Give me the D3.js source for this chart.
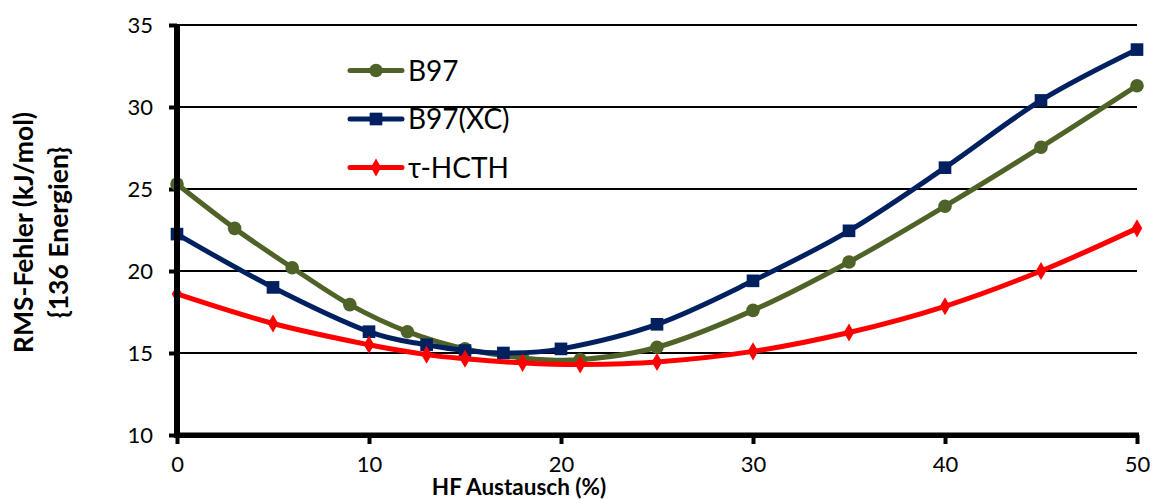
<!DOCTYPE html>
<html>
<head>
<meta charset="utf-8">
<script src="https://cdn.jsdelivr.net/npm/d3@7"></script>
<style>
  html, body { margin: 0; padding: 0; background: #fff; }
  svg { display: block; }
  text { font-family: Lato, "Open Sans", sans-serif; fill: #000; }
</style>
</head>
<body>
<svg id="chart" width="1152" height="499"></svg>
<script>
// HF admixture (%) and RMS error (kJ/mol) per functional
const b97X = [0, 3, 6, 9, 12, 15, 18, 21, 25, 30, 35, 40, 45, 50];
const b97Y = [25.3, 22.6, 20.2, 17.95, 16.3, 15.25, 14.7, 14.6, 15.35, 17.6, 20.55, 23.95, 27.55, 31.3];

const b97xcX = [0, 5, 10, 13, 15, 17, 20, 25, 30, 35, 40, 45, 50];
const b97xcY = [22.25, 19.0, 16.3, 15.5, 15.15, 15.0, 15.25, 16.75, 19.4, 22.45, 26.3, 30.4, 33.5];

const hcthX = [0, 5, 10, 13, 15, 18, 21, 25, 30, 35, 40, 45, 50];
const hcthY = [18.6, 16.8, 15.5, 14.9, 14.65, 14.4, 14.3, 14.45, 15.1, 16.25, 17.85, 20.0, 22.6];

const seriesNames = ["B97", "B97(XC)", "\u03C4-HCTH"];
const seriesColors = ["#4F6228", "#002060", "#FF0000"];
const seriesMarkers = ["circle", "square", "diamond"];

const xTicks = [0, 10, 20, 30, 40, 50];
const yTicks = [10, 15, 20, 25, 30, 35];
const xTitle = "HF Austausch (%)";
const yTitleLines = ["RMS-Fehler (kJ/mol)", "{136 Energien}"];

const series = [
  { name: seriesNames[0], color: seriesColors[0], marker: seriesMarkers[0], pts: b97X.map((x, i) => [x, b97Y[i]]) },
  { name: seriesNames[1], color: seriesColors[1], marker: seriesMarkers[1], pts: b97xcX.map((x, i) => [x, b97xcY[i]]) },
  { name: seriesNames[2], color: seriesColors[2], marker: seriesMarkers[2], pts: hcthX.map((x, i) => [x, hcthY[i]]) }
];

const svg = d3.select("#chart");
const plotL = 177, plotR = 1137, plotT = 25, plotB = 435;

const x = d3.scaleLinear().domain([0, 50]).range([plotL, plotR]);
const y = d3.scaleLinear().domain([10, 35]).range([plotB, plotT]);

// horizontal gridlines
svg.append("g")
  .selectAll("rect")
  .data(yTicks.filter(t => t > 10))
  .join("rect")
  .attr("x", plotL).attr("width", plotR - plotL)
  .attr("y", d => y(d) - 1).attr("height", 2)
  .attr("fill", "#000");

// y axis: labels and ticks from the axis generator, heavy spine drawn separately
const yAxis = svg.append("g")
  .attr("transform", `translate(${plotL},0)`)
  .call(d3.axisLeft(y).tickValues(yTicks).tickSize(8).tickPadding(16).tickSizeOuter(0));
yAxis.select(".domain").remove();
yAxis.selectAll(".tick line").attr("stroke", "#000").attr("stroke-width", 4);
yAxis.selectAll(".tick text").style("font-size", "22px").style("font-family", "Lato, sans-serif");

// x axis
const xAxis = svg.append("g")
  .attr("transform", `translate(0,${plotB})`)
  .call(d3.axisBottom(x).tickValues(xTicks).tickSize(9).tickPadding(12).tickSizeOuter(0));
xAxis.select(".domain").remove();
xAxis.selectAll(".tick line").attr("stroke", "#000").attr("stroke-width", 4);
xAxis.selectAll(".tick text").style("font-size", "22px").style("font-family", "Lato, sans-serif");

// axis titles
svg.append("text")
  .attr("x", 519).attr("y", 495)
  .attr("text-anchor", "middle")
  .style("font-size", "22.5px").style("font-weight", "bold")
  .text(xTitle);

const yt = svg.append("text")
  .attr("transform", "translate(0,232.5) rotate(-90)")
  .attr("text-anchor", "middle")
  .style("font-size", "26.5px").style("font-weight", "bold");
yt.selectAll("tspan").data(yTitleLines).join("tspan")
  .attr("x", 0).attr("y", (d, i) => i === 0 ? 33 : 68)
  .text(d => d);

// marker drawing
const symbolFor = {
  circle: d3.symbol().type(d3.symbolCircle).size(145),
  square: d3.symbol().type(d3.symbolSquare).size(160),
  diamond: d3.symbol().type(d3.symbolDiamond).size(95)
};

const line = d3.line()
  .x(d => x(d[0])).y(d => y(d[1]))
  .curve(d3.curveCatmullRom.alpha(0));

series.forEach(s => {
  const g = svg.append("g");
  g.append("path")
    .attr("d", line(s.pts))
    .attr("fill", "none")
    .attr("stroke", s.color)
    .attr("stroke-width", 5)
    .attr("stroke-linejoin", "round")
    .attr("stroke-linecap", "round");
  g.selectAll("path.m").data(s.pts).join("path")
    .attr("class", "m")
    .attr("d", symbolFor[s.marker]())
    .attr("transform", d => `translate(${x(d[0])},${y(d[1])})`)
    .attr("fill", s.color);
});

// heavy axis spines
svg.append("rect")
  .attr("x", plotL - 3).attr("width", 6)
  .attr("y", plotT).attr("height", plotB - plotT + 3)
  .attr("fill", "#000");
svg.append("rect")
  .attr("x", plotL - 3).attr("width", plotR - plotL + 5)
  .attr("y", plotB - 2.5).attr("height", 5.5)
  .attr("fill", "#000");

// legend
const legendY = [70.5, 119, 167.5];
const lg = svg.append("g");
series.forEach((s, i) => {
  const row = lg.append("g").attr("transform", `translate(0,${legendY[i]})`);
  row.append("line")
    .attr("x1", 350).attr("x2", 402)
    .attr("stroke", s.color).attr("stroke-width", 5).attr("stroke-linecap", "round");
  row.append("path")
    .attr("d", symbolFor[s.marker]())
    .attr("transform", "translate(376,0)")
    .attr("fill", s.color);
  row.append("text")
    .attr("x", 408).attr("y", 0).attr("dy", "0.36em")
    .style("font-size", "28px")
    .text(s.name);
});
</script>
</body>
</html>
